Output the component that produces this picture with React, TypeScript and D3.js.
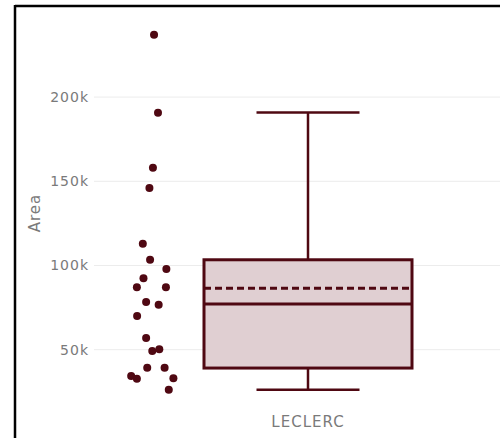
import React from "react";
import * as d3 from "d3";

const categories = ["LECLERC"];
const pointValues = [
  237000, 190700, 158100, 146000, 112900, 103400, 97900, 92400, 87100, 87100, 78300,
  76700, 70000, 56900, 49200, 50200, 39300, 39300, 34400, 32800, 33000, 26200,
];
const pointJitter = [
  0.07, 0.25, 0.02, -0.14, -0.44, -0.11, 0.63, -0.41, -0.71, 0.61, -0.29,
  0.28, -0.70, -0.29, -0.01, 0.31, -0.24, 0.55, -0.97, -0.71, 0.95, 0.74,
];
const boxStats = { min: 26200, q1: 39100, median: 77100, q3: 103400, max: 190900, mean: 86500 };
const yTicks = [50000, 100000, 150000, 200000];
const yTickLabels = ["50k", "100k", "150k", "200k"];

const W = 500;
const H = 438;
const COLOR = "#4f0812";
const FONT = "DejaVu Sans, Verdana, sans-serif";
const TEXT = "#7a7a7a";

export default function App() {
  const y = d3.scaleLinear().domain([0, 250000]).range([433.9, 12.9]);
  const x = d3.scaleBand().domain(categories).range([94, 522]).paddingInner(0).paddingOuter(0);
  const cx = (x(categories[0]) as number) + x.bandwidth() / 2; // ~308
  const boxW = 208;
  const capW = 103;
  const ptCenter = cx - 155.5;
  const ptSpread = 22;

  return (
    <svg
      width={W}
      height={H}
      style={{ position: "absolute", left: 0, top: 0, background: "#fff" }}
    >
      <rect x={0} y={0} width={W} height={H} fill="#fff" />
      {/* gridlines */}
      {yTicks.map((t) => (
        <line key={t} x1={94} x2={W} y1={y(t)} y2={y(t)} stroke="#ececec" strokeWidth={1} />
      ))}
      {/* tick labels */}
      {yTicks.map((t, i) => (
        <text
          key={t}
          x={89}
          y={y(t)}
          dy="0.35em"
          textAnchor="end"
          fontFamily={FONT}
          fontSize={14}
          letterSpacing={1}
          fill={TEXT}
        >
          {yTickLabels[i]}
        </text>
      ))}
      {/* axis title */}
      <text
        transform={`translate(40,213) rotate(-90)`}
        textAnchor="middle"
        fontFamily={FONT}
        fontSize={15}
        letterSpacing={1}
        fill={TEXT}
      >
        Area
      </text>
      {/* whiskers */}
      <line x1={cx} x2={cx} y1={y(boxStats.max)} y2={y(boxStats.q3)} stroke={COLOR} strokeWidth={2.5} />
      <line x1={cx} x2={cx} y1={y(boxStats.q1)} y2={y(boxStats.min)} stroke={COLOR} strokeWidth={2.5} />
      <line x1={cx - capW / 2} x2={cx + capW / 2} y1={y(boxStats.max)} y2={y(boxStats.max)} stroke={COLOR} strokeWidth={2.5} />
      <line x1={cx - capW / 2} x2={cx + capW / 2} y1={y(boxStats.min)} y2={y(boxStats.min)} stroke={COLOR} strokeWidth={2.5} />
      {/* box */}
      <rect
        x={cx - boxW / 2}
        y={y(boxStats.q3)}
        width={boxW}
        height={y(boxStats.q1) - y(boxStats.q3)}
        fill="#e0cfd2"
        stroke={COLOR}
        strokeWidth={3}
      />
      <line x1={cx - boxW / 2} x2={cx + boxW / 2} y1={y(boxStats.median)} y2={y(boxStats.median)} stroke={COLOR} strokeWidth={3} />
      <line
        x1={cx - boxW / 2}
        x2={cx + boxW / 2}
        y1={y(boxStats.mean)}
        y2={y(boxStats.mean)}
        stroke={COLOR}
        strokeWidth={3}
        strokeDasharray="7,4"
      />
      {/* points */}
      {pointValues.map((v, i) => (
        <circle key={i} cx={ptCenter + pointJitter[i] * ptSpread} cy={y(v)} r={4} fill={COLOR} />
      ))}
      {/* category label */}
      <text
        x={cx}
        y={427}
        textAnchor="middle"
        fontFamily={FONT}
        fontSize={15}
        letterSpacing={1}
        fill={TEXT}
      >
        {categories[0]}
      </text>
      {/* frame */}
      <line x1={15} x2={W} y1={6} y2={6} stroke="#000" strokeWidth={2.5} />
      <line x1={15} x2={15} y1={5} y2={H} stroke="#000" strokeWidth={2.5} />
    </svg>
  );
}
